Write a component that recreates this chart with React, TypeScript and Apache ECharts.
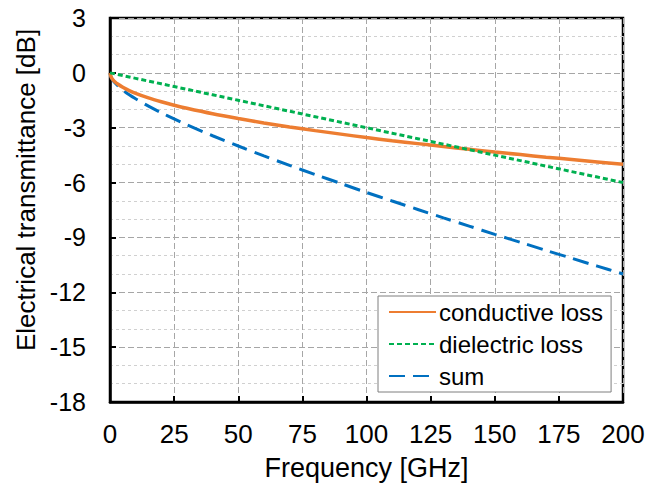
import React, { useEffect, useRef } from "react";
import * as echarts from "echarts";

const freq = [0, 0.5, 1, 2, 3, 5, 7.5, 10, 15, 20, 25, 30, 40, 50, 60, 70, 80, 90, 100, 110, 120, 130, 140, 150, 160, 170, 180, 190, 200];
const conductive = [0, -0.25, -0.35, -0.5, -0.61, -0.79, -0.97, -1.12, -1.37, -1.58, -1.77, -1.94, -2.24, -2.5, -2.74, -2.96, -3.16, -3.35, -3.54, -3.71, -3.87, -4.03, -4.18, -4.33, -4.47, -4.61, -4.74, -4.87, -5.0];
const dielectric = [0, -0.015, -0.03, -0.06, -0.09, -0.15, -0.225, -0.3, -0.45, -0.6, -0.75, -0.9, -1.2, -1.5, -1.8, -2.1, -2.4, -2.7, -3.0, -3.3, -3.6, -3.9, -4.2, -4.5, -4.8, -5.1, -5.4, -5.7, -6.0];
const sum = [0, -0.27, -0.38, -0.56, -0.7, -0.94, -1.2, -1.42, -1.82, -2.18, -2.52, -2.84, -3.44, -4.0, -4.54, -5.06, -5.56, -6.05, -6.54, -7.01, -7.47, -7.93, -8.38, -8.83, -9.27, -9.71, -10.14, -10.57, -11.0];
const seriesNames = ["conductive loss", "dielectric loss", "sum"];

const FONT = "Liberation Sans, Arial, sans-serif";

export default function App() {
  const ref = useRef<HTMLDivElement>(null);
  useEffect(() => {
    document.body.style.margin = "0";
    const chart = echarts.init(ref.current!, undefined, { renderer: "svg" });
    const pair = (ys: number[]) => freq.map((f, i) => [f, ys[i]]);
    chart.setOption({
      animation: false,
      backgroundColor: "#ffffff",
      grid: {
        left: 110,
        right: 37,
        top: 18,
        bottom: 85,
        show: true,
        borderColor: "#000",
        borderWidth: 2.5,
        backgroundColor: "transparent",
      },
      legend: {
        orient: "vertical",
        left: 378,
        top: 296,
        data: seriesNames,
        itemWidth: 47,
        itemHeight: 22,
        itemGap: 8,
        padding: [4, 8, 4, 10],
        backgroundColor: "#fff",
        borderColor: "#7f7f7f",
        borderWidth: 1,
        borderRadius: 0,
        itemStyle: { opacity: 0 },
        textStyle: { fontFamily: FONT, fontSize: 24, lineHeight: 24, color: "#000", padding: [0, 0, 0, -2] },
      },
      xAxis: {
        type: "value",
        min: 0,
        max: 200,
        interval: 25,
        name: "Frequency [GHz]",
        nameLocation: "middle",
        nameGap: 52,
        nameTextStyle: { fontFamily: FONT, fontSize: 27, color: "#000" },
        axisLine: { show: true, onZero: false, lineStyle: { color: "#000", width: 2.5 } },
        axisTick: { show: true, inside: true, length: 6, lineStyle: { color: "#000", width: 2 } },
        axisLabel: { fontFamily: FONT, fontSize: 26, color: "#000", margin: 19 },
        splitLine: { show: true, lineStyle: { color: "#a6a6a6", type: [6, 3], width: 1 } },
      },
      yAxis: {
        type: "value",
        min: -18,
        max: 3,
        interval: 3,
        name: "Electrical transmittance [dB]",
        nameLocation: "middle",
        nameGap: 70,
        nameTextStyle: { fontFamily: FONT, fontSize: 26, color: "#000", padding: [0, 0, 0, 40] },
        axisLine: { show: true, onZero: false, lineStyle: { color: "#000", width: 2.5 } },
        axisTick: { show: true, inside: true, length: 6, lineStyle: { color: "#000", width: 2 } },
        axisLabel: { fontFamily: FONT, fontSize: 25, color: "#000", margin: 24 },
        splitLine: { show: true, lineStyle: { color: "#a6a6a6", type: [6, 3], width: 1 } },
        minorTick: { show: false, splitNumber: 3 },
        minorSplitLine: { show: true, lineStyle: { color: "#d0d0d0", type: [3, 3], width: 1 } },
      },
      series: [
        {
          name: seriesNames[0],
          type: "line",
          data: pair(conductive),
          showSymbol: false,
          symbol: "none",
          smooth: 0.3,
          lineStyle: { color: "#ED7D31", width: 3.5 },
          itemStyle: { color: "#ED7D31" },
          z: 3,
        },
        {
          name: seriesNames[1],
          type: "line",
          data: pair(dielectric),
          showSymbol: false,
          symbol: "none",
          lineStyle: { color: "#00B050", width: 3, type: [5, 3] },
          itemStyle: { color: "#00B050" },
          z: 4,
        },
        {
          name: seriesNames[2],
          type: "line",
          data: pair(sum),
          showSymbol: false,
          symbol: "none",
          smooth: 0.3,
          lineStyle: { color: "#0070C0", width: 3, type: [16, 8] },
          itemStyle: { color: "#0070C0" },
          z: 2,
        },
      ],
    });
    return () => chart.dispose();
  }, []);
  return <div ref={ref} style={{ width: 660, height: 487 }} />;
}
